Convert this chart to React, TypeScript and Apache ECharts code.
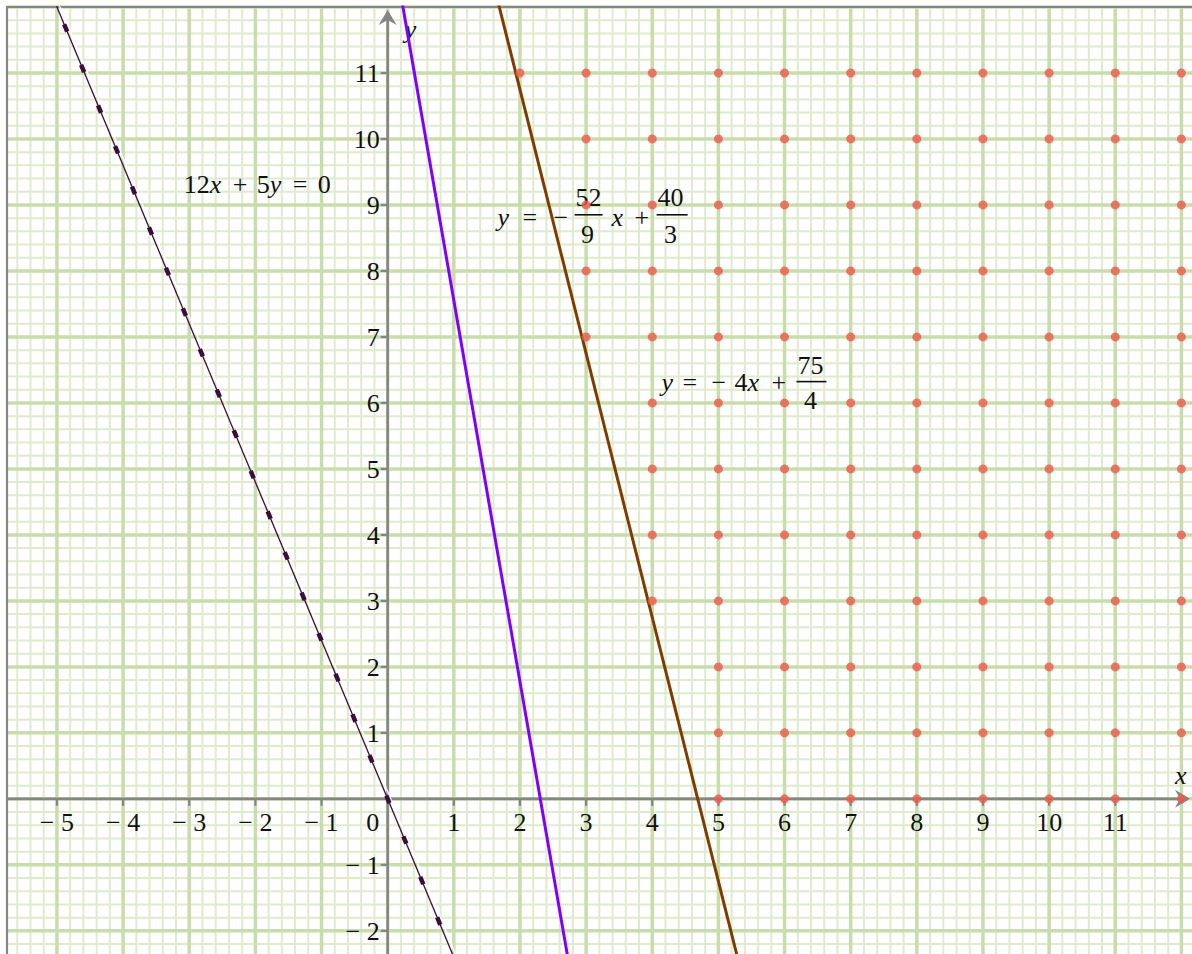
import React, { useEffect, useRef } from "react";
import * as echarts from "echarts";

// Visible window of the coordinate plane
const X_MIN = -5.755;
const X_MAX = 12.16;
const Y_MIN = -2.351;
const Y_MAX = 12.0;

// Axis ticks and labels
const xTickValues = [-5, -4, -3, -2, -1, 1, 2, 3, 4, 5, 6, 7, 8, 9, 10, 11];
const xTickLabels = ["− 5", "− 4", "− 3", "− 2", "− 1", "1", "2", "3", "4", "5", "6", "7", "8", "9", "10", "11"];
const yTickValues = [-2, -1, 1, 2, 3, 4, 5, 6, 7, 8, 9, 10, 11];
const yTickLabels = ["− 2", "− 1", "1", "2", "3", "4", "5", "6", "7", "8", "9", "10", "11"];

const purpleLine = [[0.179, 12.3], [2.74, -2.5]]; // y = -52/9 x + 40/3
const brownLine = [[1.6125, 12.3], [5.3125, -2.5]]; // y = -4x + 75/4
const blackLine = [[-5.8, 13.92], [1.2, -2.88]]; // 12x + 5y = 0

// Integer lattice points (red dots): for each row y, first x shown, up to x = 12
const dotRowY = [0, 1, 2, 3, 4, 5, 6, 7, 8, 9, 10, 11];
const dotRowFirstX = [5, 5, 5, 4, 4, 4, 4, 3, 3, 3, 3, 2];
const dotRowLastX = 12;

// Equation label anchors (data coords)
const labelAnchors = [
  [-3.082, 9.305, 0],
  [1.647, 8.851, 1],
  [4.109, 6.323, 2],
];

const FONT = '"Liberation Serif", "Times New Roman", serif';
const FS = 26;
const INK = "#111";

function txt(text: string, x: number, y: number, italic = false, align = "left") {
  return {
    type: "text",
    x,
    y,
    style: {
      text,
      fontSize: FS,
      fontFamily: FONT,
      fontStyle: italic ? "italic" : "normal",
      fill: INK,
      align,
      verticalAlign: "middle",
    },
  };
}
// mixed upright / italic run, e.g. "12" + "x"
function rtxt(parts: [string, boolean][], x: number, y: number) {
  const text = parts.map(([s, it]) => `{${it ? "i" : "n"}|${s}}`).join("");
  return {
    type: "text",
    x,
    y,
    style: {
      text,
      fontSize: FS,
      fontFamily: FONT,
      fill: INK,
      align: "left",
      verticalAlign: "middle",
      rich: {
        n: { fontSize: FS, fontFamily: FONT, fontStyle: "normal", fill: INK },
        i: { fontSize: FS, fontFamily: FONT, fontStyle: "italic", fill: INK },
      },
    },
  };
}
function bar(x1: number, x2: number, y: number) {
  return {
    type: "line",
    shape: { x1, y1: y, x2, y2: y },
    style: { stroke: INK, lineWidth: 1.6 },
  };
}

function labelChildren(idx: number, ax: number, ay: number) {
  if (idx === 0) {
    return [
      rtxt([["12", false], ["x", true]], ax, ay),
      txt("+", ax + 49, ay),
      rtxt([["5", false], ["y", true]], ax + 73, ay),
      txt("=", ax + 109, ay),
      txt("0", ax + 134, ay),
    ];
  }
  if (idx === 1) {
    return [
      txt("y", ax + 1, ay + 3, true),
      txt("=", ax + 26, ay + 3),
      txt("−", ax + 57, ay + 3),
      txt("52", ax + 92, ay - 17, false, "center"),
      bar(ax + 78, ax + 106, ay),
      txt("9", ax + 91, ay + 20, false, "center"),
      txt("x", ax + 115, ay + 3, true),
      txt("+", ax + 138, ay + 3),
      txt("40", ax + 174, ay - 17, false, "center"),
      bar(ax + 160, ax + 191, ay),
      txt("3", ax + 174, ay + 20, false, "center"),
    ];
  }
  return [
    txt("y", ax + 2, ay + 1, true),
    txt("=", ax + 23, ay + 1),
    txt("−", ax + 52, ay + 1),
    rtxt([["4", false], ["x", true]], ax + 75, ay + 1),
    txt("+", ax + 112, ay + 1),
    txt("75", ax + 151, ay - 16, false, "center"),
    bar(ax + 137, ax + 167, ay),
    txt("4", ax + 151, ay + 19, false, "center"),
  ];
}

export default function App() {
  const ref = useRef<HTMLDivElement>(null);

  useEffect(() => {
    if (!ref.current) return;
    const chart = echarts.init(ref.current, undefined, { renderer: "svg" });

    // grid lines: [value, major?, vertical?]
    const gridLines: number[][] = [];
    for (let k = Math.ceil(X_MIN * 5); k <= Math.floor(X_MAX * 5); k++) {
      gridLines.push([k / 5, k % 5 === 0 ? 1 : 0, 1]);
    }
    for (let k = Math.ceil(Y_MIN * 5); k <= Math.floor(Y_MAX * 5); k++) {
      gridLines.push([k / 5, k % 5 === 0 ? 1 : 0, 0]);
    }
    const minorLines = gridLines.filter((g) => g[1] === 0);
    const majorLines = gridLines.filter((g) => g[1] === 1);

    const gridRender = (major: boolean) => (params: any, api: any) => {
      const v = api.value(0);
      const vertical = api.value(2) === 1;
      const p1 = vertical ? api.coord([v, Y_MIN]) : api.coord([X_MIN, v]);
      const p2 = vertical ? api.coord([v, Y_MAX]) : api.coord([X_MAX, v]);
      return {
        type: "line",
        shape: { x1: p1[0], y1: p1[1], x2: p2[0], y2: p2[1] },
        style: { stroke: major ? "#c9dcab" : "#e0eacf", lineWidth: major ? 3.5 : 2 },
      };
    };

    const dots: number[][] = [];
    dotRowY.forEach((y, i) => {
      for (let x = dotRowFirstX[i]; x <= dotRowLastX; x++) dots.push([x, y]);
    });

    const axisColor = "#858585";

    const option: any = {
      animation: false,
      backgroundColor: "#ffffff",
      grid: { left: 7, top: 7, width: 1186, height: 948 },
      xAxis: { type: "value", min: X_MIN, max: X_MAX, show: false },
      yAxis: { type: "value", min: Y_MIN, max: Y_MAX, show: false },
      series: [
        {
          type: "custom",
          z: 1,
          silent: true,
          data: minorLines,
          renderItem: gridRender(false),
        },
        {
          type: "custom",
          z: 2,
          silent: true,
          data: majorLines,
          renderItem: gridRender(true),
        },
        {
          type: "custom",
          z: 3,
          silent: true,
          data: [[0, 0]],
          renderItem: (params: any, api: any) => {
            const o = api.coord([0, 0]);
            const left = api.coord([X_MIN, 0])[0];
            const right = api.coord([X_MAX, 0])[0];
            const top = api.coord([0, Y_MAX])[1];
            const bottom = api.coord([0, Y_MIN])[1];
            const children: any[] = [];
            // frame (top + left)
            children.push({
              type: "polyline",
              shape: { points: [[left, bottom], [left, top], [right, top]] },
              style: { stroke: axisColor, lineWidth: 2.2, fill: "none" },
            });
            // axes
            children.push({
              type: "line",
              shape: { x1: left, y1: o[1], x2: right - 4, y2: o[1] },
              style: { stroke: axisColor, lineWidth: 2.6 },
            });
            children.push({
              type: "line",
              shape: { x1: o[0], y1: bottom, x2: o[0], y2: top + 5 },
              style: { stroke: axisColor, lineWidth: 2.6 },
            });
            // arrows
            const tx = right - 2;
            children.push({
              type: "polygon",
              shape: { points: [[tx, o[1]], [tx - 15, o[1] - 9], [tx - 10, o[1]], [tx - 15, o[1] + 9]] },
              style: { fill: axisColor },
            });
            const ty = top + 3;
            children.push({
              type: "polygon",
              shape: { points: [[o[0], ty], [o[0] - 9, ty + 15], [o[0], ty + 10], [o[0] + 9, ty + 15]] },
              style: { fill: axisColor },
            });
            // ticks + labels
            xTickValues.forEach((v, i) => {
              const p = api.coord([v, 0]);
              children.push({
                type: "line",
                shape: { x1: p[0], y1: p[1], x2: p[0], y2: p[1] + 7 },
                style: { stroke: axisColor, lineWidth: 2.2 },
              });
              children.push(txt(xTickLabels[i], p[0], p[1] + 24, false, "center"));
            });
            children.push(txt("0", o[0] - 15, o[1] + 24, false, "center"));
            yTickValues.forEach((v, i) => {
              const p = api.coord([0, v]);
              children.push({
                type: "line",
                shape: { x1: p[0] - 7, y1: p[1], x2: p[0], y2: p[1] },
                style: { stroke: axisColor, lineWidth: 2.2 },
              });
              children.push(txt(yTickLabels[i], p[0] - 8, p[1] + 1, false, "right"));
            });
            // axis names
            children.push(txt("y", o[0] + 17, top + 22, true));
            children.push(txt("x", right - 17, o[1] - 23, true));
            return { type: "group", children };
          },
        },
        {
          type: "custom",
          z: 4,
          silent: true,
          data: labelAnchors,
          renderItem: (params: any, api: any) => {
            const p = api.coord([api.value(0), api.value(1)]);
            return { type: "group", children: labelChildren(api.value(2), p[0], p[1]) };
          },
        },
        {
          type: "line",
          z: 5,
          data: blackLine,
          showSymbol: false,
          silent: true,
          lineStyle: {
            color: "#3a0d3a",
            width: 1.3,
            shadowColor: "#ffffff",
            shadowBlur: 0,
            shadowOffsetX: 3,
          },
        },
        {
          type: "line",
          z: 5,
          data: blackLine,
          showSymbol: false,
          silent: true,
          lineStyle: { color: "#3a0d3a", width: 4.5, type: [8, 36], dashOffset: 19.5 },
        },
        {
          type: "line",
          z: 5,
          data: purpleLine,
          showSymbol: false,
          silent: true,
          lineStyle: { color: "#8000ff", width: 3 },
        },
        {
          type: "line",
          z: 5,
          data: brownLine,
          showSymbol: false,
          silent: true,
          lineStyle: { color: "#7e3c00", width: 3 },
        },
        {
          type: "scatter",
          z: 6,
          data: dots,
          symbolSize: 9,
          silent: true,
          itemStyle: { color: "#ec5a4b" },
        },
      ],
    };

    chart.setOption(option);
    return () => chart.dispose();
  }, []);

  return (
    <div
      ref={ref}
      style={{ position: "absolute", left: 0, top: 0, width: 1192, height: 954, background: "#fff" }}
    />
  );
}
